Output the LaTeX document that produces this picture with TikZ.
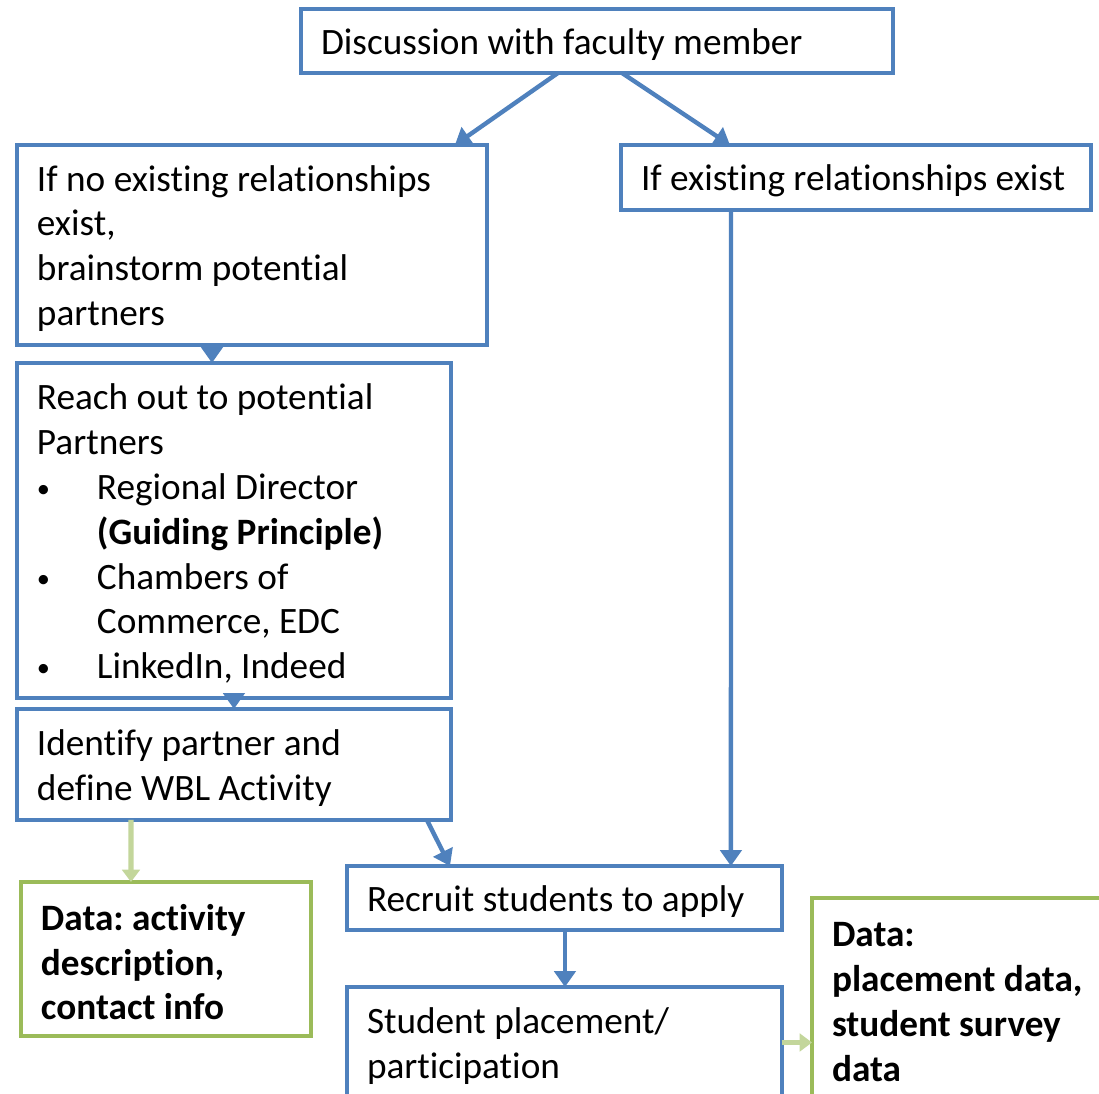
\documentclass[tikz,border=0pt]{standalone}
\usepackage{fontspec}
\setmainfont{Carlito}[Ligatures=NoCommon]
\usepackage{tikz}
\usetikzlibrary{arrows.meta}
\definecolor{boxblue}{HTML}{4F81BD}
\definecolor{boxgreen}{HTML}{9BBB59}
\definecolor{arrgreen}{HTML}{C3D69B}
\hyphenpenalty=10000
\exhyphenpenalty=10000
\frenchspacing
\newcommand{\bul}{\makebox[1.2cm][l]{\raisebox{1pt}{\fontsize{15pt}{15pt}\selectfont\textbullet}}}
\begin{document}
\begin{tikzpicture}[x=0.02cm,y=-0.02cm,
	every node/.style={font=\fontsize{21.2pt}{25.5pt}\selectfont},
	stepbox/.style={draw=boxblue,line width=2.3pt,rectangle,anchor=north west,align=flush left,inner xsep=0.4cm,inner ysep=0pt,outer sep=0pt,execute at begin node={\rule{0pt}{18.5pt}}},
	databox/.style={stepbox,draw=boxgreen,font=\fontsize{21.2pt}{25.5pt}\selectfont\bfseries},
	flow/.style={draw=boxblue,line width=2.5pt,-{Triangle[length=9pt,width=12pt]}},
	dataflow/.style={draw=arrgreen,line width=3pt,-{Triangle[length=7pt,width=10pt]}}]
\useasboundingbox (0,0) rectangle (1099,1094);
\node[stepbox,minimum width=11.84cm,minimum height=1.28cm,text width=11.04cm] (disc) at (301,9) {Discussion with faculty member};
\node[stepbox,minimum width=9.4cm,minimum height=4.0cm,text width=8.6cm] (norel) at (17,145) {If no existing relationships\\exist,\\brainstorm potential\\partners};
\node[stepbox,minimum width=9.4cm,minimum height=1.3cm,text width=8.6cm] (rel) at (621,145) {If existing relationships exist};
\node[stepbox,minimum width=8.68cm,minimum height=6.7cm,text width=7.88cm] (reach) at (17,363) {Reach out to potential\\Partners\\\bul Regional Director\\\hspace*{1.2cm}\textbf{(Guiding Principle)}\\\bul Chambers of\\\hspace*{1.2cm}Commerce, EDC\\\bul LinkedIn, Indeed};
\node[stepbox,minimum width=8.68cm,minimum height=2.22cm,text width=7.88cm] (ident) at (17,709) {Identify partner and\\define WBL Activity};
\node[databox,minimum width=5.8cm,minimum height=3.08cm,text width=5.0cm] (dataa) at (21,882) {Data: activity\\description,\\contact info};
\node[stepbox,minimum width=8.7cm,minimum height=1.28cm,text width=7.9cm] (recruit) at (347,866) {Recruit students to apply};
\node[stepbox,minimum width=8.7cm,minimum height=2.22cm,text width=7.9cm] (place) at (347,987) {Student placement/\\participation};
\node[databox,minimum width=5.9cm,minimum height=4.0cm,text width=5.1cm] (datab) at (812,898) {Data:\\placement data,\\student survey\\data};
\draw[flow] ([xshift=5.14cm]disc.south west) -- ([xshift=8.76cm]norel.north west);
\draw[flow] ([xshift=6.42cm]disc.south west) -- ([xshift=2.18cm]rel.north west);
\draw[flow] ([xshift=3.9cm]norel.south west) -- ([xshift=3.9cm]reach.north west);
\draw[flow] ([xshift=4.34cm]reach.south west) -- ([xshift=4.34cm]ident.north west);
\draw[flow] ([xshift=2.2cm]rel.south west) -- ([xshift=7.68cm]recruit.north west);
\draw[flow] ([xshift=8.2cm]ident.south west) -- ([xshift=2.06cm]recruit.north west);
\draw[flow] ([xshift=4.36cm]recruit.south west) -- ([xshift=4.36cm]place.north west);
\draw[dataflow] ([xshift=2.28cm]ident.south west) -- ([xshift=2.2cm]dataa.north west);
\draw[dataflow] (place.east) -- (place.east -| datab.west);
\end{tikzpicture}
\end{document}
